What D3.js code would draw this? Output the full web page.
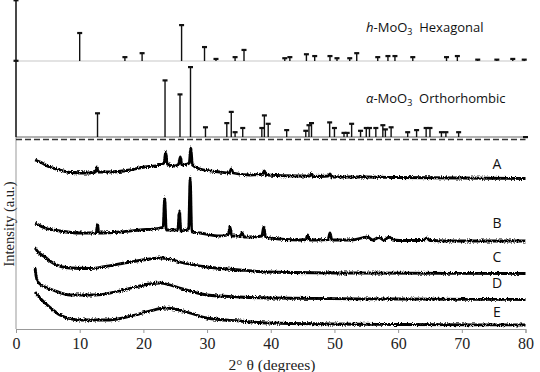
<!DOCTYPE html>
<html>
<head>
<meta charset="utf-8">
<script src="https://cdn.jsdelivr.net/npm/d3@7"></script>
<style>
  body { margin: 0; background: #fff; }
  svg { display: block; }
</style>
</head>
<body>
<svg id="chart" width="540" height="372"></svg>
<script>
// reference patterns: [2theta, relative intensity %]
const hexSticks = [[0,169],[10.0,78],[17.1,11],[19.8,22],[26.0,100],[29.6,39],[31.4,6],[34.4,11],[35.8,31],
  [42.2,8],[43.0,11],[45.6,19],[46.9,14],[49.3,14],[50.4,8],[52.4,8],[53.5,22],[56.8,11],[58.4,14],
  [59.5,14],[62.3,11],[67.6,11],[69.3,14],[72.5,4],[75.5,4],[78.0,6],[79.8,4]];

const orthoSticks = [[0,109],[12.8,34],[23.4,81],[25.75,61],[27.4,100],[29.75,14],[33.1,20],[33.8,36],
  [34.4,7],[35.6,13],[38.6,13],[39.0,31],[39.6,19],[42.5,10],[45.5,9],[46.0,17],[46.4,20],[49.25,21],
  [50.0,13],[51.5,6],[52.0,6],[52.7,19],[54.1,9],[55.0,13],[55.5,13],[56.5,13],[57.6,17],[58.0,11],
  [58.9,14],[61.5,7],[62.9,10],[64.4,13],[65.0,13],[66.8,7],[67.5,7],[69.5,7],[80,0]];

// measured patterns: [2theta, intensity (a.u.)]
const sampleA = [[3.0,169],[3.8,167],[5.3,162],[6.9,159],[8.5,156.5],[11.6,156],[12.5,157],[12.7,162],[12.9,157],
  [14.7,157],[17.9,159],[20.2,162],[22.6,164],[23.25,166],[23.5,177],[23.75,165],[24.9,163],[25.55,165],
  [25.8,172],[26.05,164],[26.9,165],[27.2,166],[27.45,181],[27.7,164],[28.9,160],[32.0,157],[33.5,156],[33.8,160],
  [34.1,156],[36.7,154],[38.7,155],[39.0,158],[39.3,154],[44.5,153],[46.1,153],[46.4,155],[46.7,152.5],
  [49.0,153],[49.3,155],[49.6,152],[55.0,152],[60.2,151.5],[69.6,151],[80,150.5]];

const sampleB = [[3.0,106],[4.55,101],[6.9,98],[10.0,96],[12.6,96],[12.8,105],[13.0,96],[16.3,97],[19.5,99],
  [22.6,101],[23.1,102],[23.35,131],[23.6,99],[25.1,99],[25.4,99],[25.65,118],[25.9,98],[26.8,99],[27.1,99],
  [27.35,151],[27.6,97],[28.9,96],[32.0,93],[33.3,94],[33.6,102],[33.9,93],[35.2,93],[35.5,96],[35.8,92],
  [36.7,92],[38.6,93],[38.9,102],[39.2,92],[39.8,91],[44.5,89],[45.5,89.5],[45.8,94],[46.1,89],[49.0,89.5],
  [49.3,96],[49.6,89],[52.7,89],[55.2,92],[56.0,89],[57.0,91.5],[57.8,89],[58.6,92],[59.2,89],
  [60.2,88.5],[64.0,88.5],[64.5,91],[65.0,88.5],[69.6,88],[80,88]];

const sampleC = [[3.0,81],[3.45,77],[4.55,72],[5.8,66],[8.5,61],[11.6,60.5],[13.6,62],[17.9,67],
  [21.0,70],[22.6,71],[24.2,70],[25.7,67],[30.0,62],[35.1,59],[39.8,57],[52.4,56],[80,55.5]];

const sampleD = [[3.0,61],[3.15,53],[3.45,47],[4.55,42],[5.8,39],[8.5,34],[12.4,34],[15.5,37],[18.7,42],
  [21.0,45],[22.6,46],[24.2,44],[25.7,41],[30.0,34],[35.1,32],[39.8,31],[60.2,30],[80,29.5]];

const sampleE = [[3.0,37],[3.76,31],[4.55,26],[5.65,20],[6.9,14],[10.0,9],[14.7,9],[18.7,14],[21.0,18],
  [23.4,21],[24.9,20],[27.3,16],[30.0,11],[35.1,8],[39.8,6],[60.2,4.5],[80,4]];

const samples = [
  { name: "A", data: sampleA },
  { name: "B", data: sampleB },
  { name: "C", data: sampleC },
  { name: "D", data: sampleD },
  { name: "E", data: sampleE }
];

const xTicks = [0, 10, 20, 30, 40, 50, 60, 70, 80];

const svg = d3.select("#chart");
const left = 16, right = 525.5, bottom = 329;

const x = d3.scaleLinear().domain([0, 80]).range([left, right]);
const y = d3.scaleLinear().domain([0, 329]).range([bottom, 0]);
const yHex = d3.scaleLinear().domain([0, 100]).range([61, 25]);
const yOrtho = d3.scaleLinear().domain([0, 100]).range([137, 67]);

// rough (vertical only) edge for the noisy scans
const defs = svg.append("defs");
const filt = defs.append("filter").attr("id", "rough")
  .attr("x", "-5%").attr("y", "-20%").attr("width", "110%").attr("height", "140%");
filt.append("feTurbulence").attr("type", "fractalNoise")
  .attr("baseFrequency", "1.2 0.6").attr("numOctaves", 2).attr("seed", 3).attr("result", "noise");
filt.append("feColorMatrix").attr("in", "noise").attr("type", "matrix")
  .attr("values", "0 0 0 0 0.5  0 1 0 0 0  0 0 0 0 0  0 0 0 0 1").attr("result", "shift");
filt.append("feDisplacementMap").attr("in", "SourceGraphic").attr("in2", "shift")
  .attr("scale", 4).attr("xChannelSelector", "R").attr("yChannelSelector", "G");

// axes
svg.append("line")
  .attr("x1", left).attr("x2", left).attr("y1", 0).attr("y2", bottom)
  .style("stroke", "#999").style("stroke-width", 1);

const xAxis = svg.append("g")
  .attr("transform", "translate(0," + bottom + ")")
  .call(d3.axisBottom(x).tickValues(xTicks).tickSize(4).tickPadding(5).tickFormat(d3.format("d")));
xAxis.select(".domain").style("stroke", "#999");
xAxis.selectAll(".tick line").style("stroke", "#999");
xAxis.selectAll(".tick text")
  .style("font-family", "'Liberation Serif', 'Times New Roman', serif")
  .style("font-size", "16px").style("fill", "#222");

svg.append("text")
  .attr("x", 272).attr("y", 370)
  .attr("text-anchor", "middle")
  .style("font-family", "'Liberation Serif', 'Times New Roman', serif")
  .style("font-size", "15.5px").style("fill", "#222")
  .text("2° θ (degrees)");

svg.append("text")
  .attr("transform", "translate(13.5,224) rotate(-90)")
  .attr("text-anchor", "middle")
  .style("font-family", "'Liberation Serif', 'Times New Roman', serif")
  .style("font-size", "14.5px").style("fill", "#222")
  .text("Intensity (a.u.)");

// reference panels
svg.append("line")
  .attr("x1", left).attr("x2", right).attr("y1", yHex(0)).attr("y2", yHex(0))
  .style("stroke", "#c8c8c8").style("stroke-width", 1.2);
svg.append("line")
  .attr("x1", left).attr("x2", right).attr("y1", yOrtho(0)).attr("y2", yOrtho(0))
  .style("stroke", "#666").style("stroke-width", 1);
svg.append("line")
  .attr("x1", left).attr("x2", right).attr("y1", 139.5).attr("y2", 139.5)
  .style("stroke", "#333").style("stroke-width", 1.5).style("stroke-dasharray", "6,3");

const drawSticks = function(data, scale) {
  const g = svg.append("g");
  g.selectAll("line")
    .data(data)
    .enter()
    .append("line")
    .attr("x1", d => x(d[0])).attr("x2", d => x(d[0]))
    .attr("y1", scale(0)).attr("y2", d => scale(d[1]))
    .style("stroke", "#111").style("stroke-width", 1.4);
  g.selectAll("rect")
    .data(data)
    .enter()
    .append("rect")
    .attr("x", d => x(d[0]) - 2.5).attr("y", d => scale(d[1]) - 1)
    .attr("width", 5).attr("height", 2.2)
    .style("fill", "#111");
};

drawSticks(hexSticks, yHex);
drawSticks(orthoSticks, yOrtho);

const labelFont = "'Open Sans', 'Noto Sans', sans-serif";

const hexLabel = svg.append("text")
  .attr("x", 366).attr("y", 32)
  .style("font-family", labelFont).style("font-size", "13px").style("fill", "#111");
hexLabel.append("tspan").style("font-style", "italic").text("h");
hexLabel.append("tspan").text("-MoO");
hexLabel.append("tspan").attr("dy", 3).style("font-size", "9px").text("3");
hexLabel.append("tspan").attr("dy", -3).text("\u00a0 Hexagonal");

const orthoLabel = svg.append("text")
  .attr("x", 366).attr("y", 103)
  .style("font-family", labelFont).style("font-size", "13px").style("fill", "#111");
orthoLabel.append("tspan").style("font-style", "italic").text("α");
orthoLabel.append("tspan").text("-MoO");
orthoLabel.append("tspan").attr("dy", 3).style("font-size", "9px").text("3");
orthoLabel.append("tspan").attr("dy", -3).text("\u00a0 Orthorhombic");

// measured scans
const line = d3.line()
  .x(d => x(d[0]))
  .y(d => y(d[1]))
  .curve(d3.curveMonotoneX);

svg.append("g")
  .attr("filter", "url(#rough)")
  .selectAll("path")
  .data(samples)
  .enter()
  .append("path")
  .attr("d", d => line(d.data))
  .style("fill", "none")
  .style("stroke", "#000")
  .style("stroke-width", 2.8)
  .style("stroke-linejoin", "round");

const labelY = { A: 164, B: 223, C: 257, D: 283, E: 312 };
svg.append("g")
  .selectAll("text")
  .data(samples)
  .enter()
  .append("text")
  .attr("x", 497).attr("y", d => labelY[d.name] + 5)
  .attr("text-anchor", "middle")
  .style("font-family", labelFont).style("font-size", "14px").style("fill", "#111")
  .text(d => d.name);
</script>
</body>
</html>
